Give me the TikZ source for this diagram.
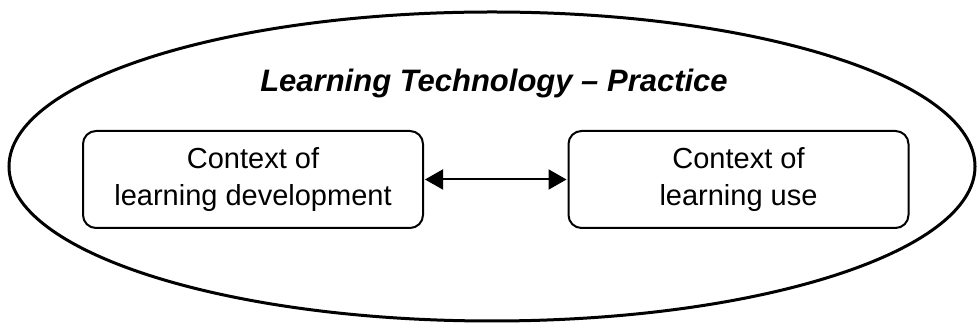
\documentclass[tikz,border=0pt]{standalone}
\usepackage{fontspec}
\setmainfont{Liberation Sans}
\usetikzlibrary{arrows.meta,shapes.geometric}
\begin{document}
\begin{tikzpicture}[x=1pt,y=1pt,
  ctxbox/.style={draw=black, line width=2pt, rounded corners=13pt, minimum width=340pt, minimum height=97pt, align=center, font=\fontsize{29}{37}\selectfont, inner sep=0pt},
  titlestyle/.style={font=\fontsize{31}{34}\selectfont\bfseries\itshape, inner sep=0pt, anchor=base},
  link/.style={line width=2pt, {Triangle[length=18pt,width=20pt]}-{Triangle[length=18pt,width=20pt]}, shorten <=1pt, shorten >=1pt}
]
\useasboundingbox (0,0) rectangle (979,328);
\node[draw=black, line width=3pt, ellipse, minimum width=966pt, minimum height=309pt, inner sep=0pt] (outer) at (492,161.5) {};
\node[titlestyle] (title) at (494,236) {Learning Technology – Practice};
\node[ctxbox] (dev) at (253,148.5) {Context of\\learning development};
\node[ctxbox] (use) at (738.5,148.5) {Context of\\learning use};
\draw[link] (dev.east) -- (use.west);
\end{tikzpicture}
\end{document}
